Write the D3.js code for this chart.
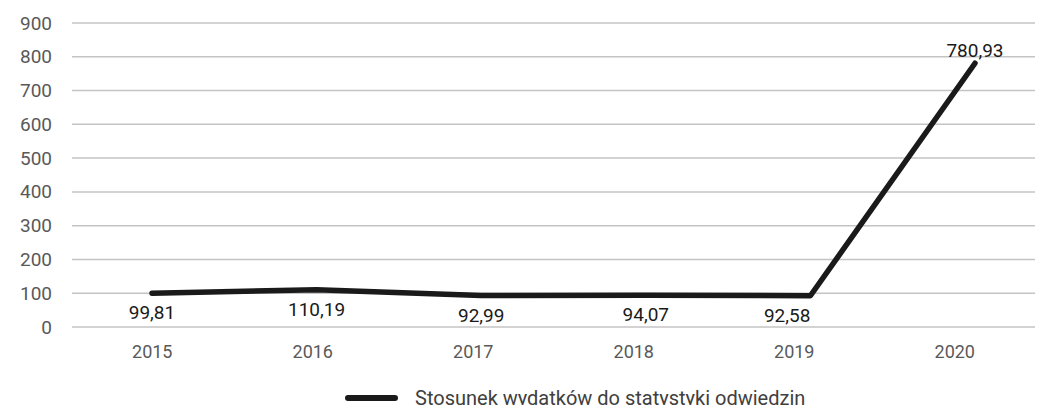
<!DOCTYPE html>
<html>
<head>
<meta charset="utf-8">
<script src="https://cdn.jsdelivr.net/npm/d3@7"></script>
<style>
  body { margin: 0; background: #fff; }
  svg text { font-family: Roboto, "Open Sans", sans-serif; }
</style>
</head>
<body>
<svg id="chart" width="1047" height="405"></svg>
<script>
// data
var years = ["2015", "2016", "2017", "2018", "2019", "2020"];
var values = [99.81, 110.19, 92.99, 94.07, 92.58, 780.93];
var yTicks = [0, 100, 200, 300, 400, 500, 600, 700, 800, 900];
var seriesName = "Stosunek wydatków do statystyki odwiedzin";

var svg = d3.select("#chart");

var x = d3.scaleBand()
    .domain(years)
    .range([72, 1035]);

// the line itself sits a touch wider than the category centres
var xLine = d3.scalePoint()
    .domain(years)
    .range([152, 975]);

var y = d3.scaleLinear()
    .domain([0, 900])
    .range([327, 23]);

// gridlines
svg.append("g")
    .selectAll("line")
    .data(yTicks)
    .enter()
    .append("line")
    .attr("x1", 72)
    .attr("x2", 1035)
    .attr("y1", function(d) { return y(d); })
    .attr("y2", function(d) { return y(d); })
    .attr("stroke", "#c4c4c4")
    .attr("stroke-width", 1.5);

// y axis labels
var yAxis = svg.append("g")
    .attr("transform", "translate(52,0)")
    .call(d3.axisLeft(y).tickValues(yTicks).tickSize(0).tickPadding(0));
yAxis.select(".domain").remove();
yAxis.selectAll("text")
    .attr("fill", "#595959")
    .style("font-size", "19px");

// x axis labels
var xAxis = svg.append("g")
    .attr("transform", "translate(0,345)")
    .call(d3.axisBottom(x).tickSize(0).tickPadding(0));
xAxis.select(".domain").remove();
xAxis.selectAll("text")
    .attr("fill", "#595959")
    .style("font-size", "18px");

// series line
var line = d3.line()
    .x(function(d, i) { return xLine(years[i]); })
    .y(function(d) { return y(d); });

svg.append("path")
    .datum(values)
    .attr("d", line)
    .attr("fill", "none")
    .attr("stroke", "#1a1a1a")
    .attr("stroke-width", 5.5)
    .attr("stroke-linejoin", "round")
    .attr("stroke-linecap", "round");

// data labels
svg.append("g")
    .selectAll("text")
    .data(values)
    .enter()
    .append("text")
    .attr("x", function(d, i) { return xLine(years[i]); })
    .attr("y", function(d, i) {
        return i === values.length - 1 ? y(d) - 6 : y(d) + 26;
    })
    .attr("text-anchor", function(d, i) {
        // label before the jump goes left of the point
        var next = values[i + 1];
        return next !== undefined && next - d > 300 ? "end" : "middle";
    })
    .attr("fill", "#1a1a1a")
    .style("font-size", "19px")
    .text(function(d) { return d3.format(".2f")(d).replace(".", ","); });

// legend
var legend = svg.append("g");
legend.append("line")
    .attr("x1", 348)
    .attr("x2", 395)
    .attr("y1", 398)
    .attr("y2", 398)
    .attr("stroke", "#1a1a1a")
    .attr("stroke-width", 6)
    .attr("stroke-linecap", "round");
legend.append("text")
    .attr("x", 415)
    .attr("y", 405)
    .attr("fill", "#404040")
    .style("font-size", "20px")
    .text(seriesName);
</script>
</body>
</html>
